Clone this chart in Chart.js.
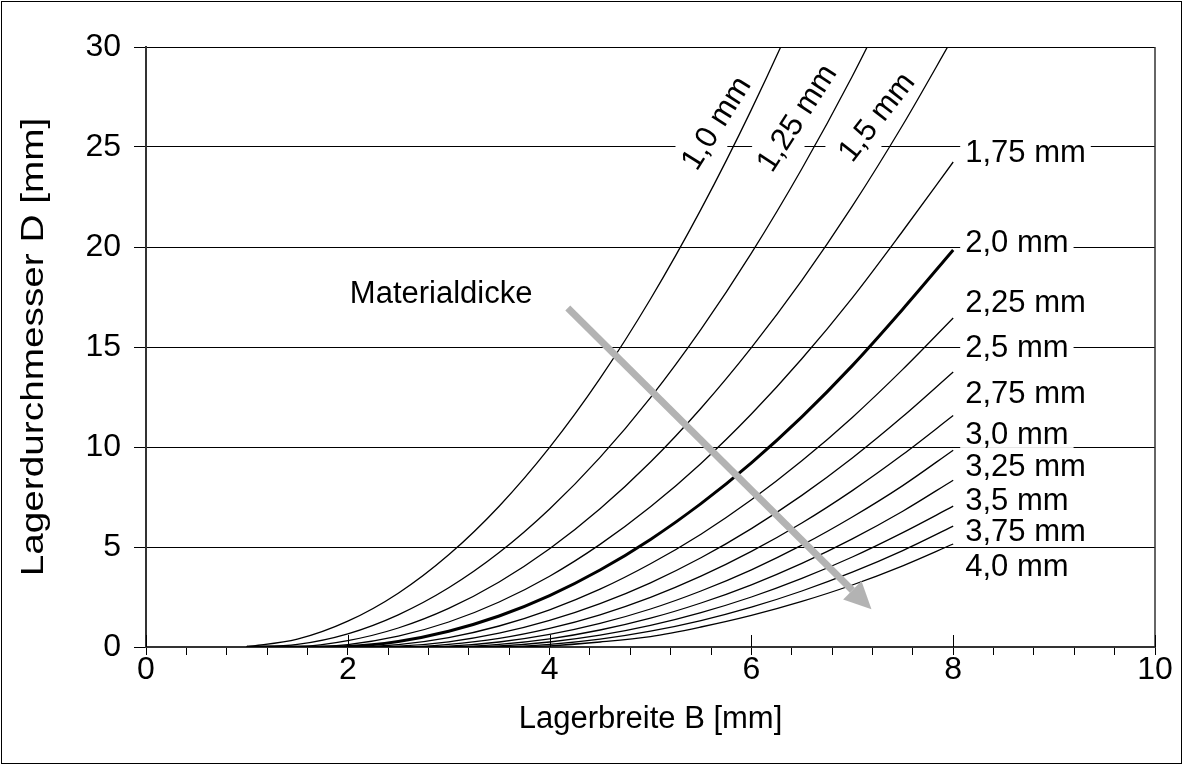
<!DOCTYPE html>
<html>
<head>
<meta charset="utf-8">
<script src="https://cdn.jsdelivr.net/npm/chart.js@4.4.1/dist/chart.umd.min.js"></script>
<style>
  html, body { margin: 0; padding: 0; background: #fff; }
  canvas { display: block; }
</style>
</head>
<body>
<canvas id="chart" width="1183" height="765"></canvas>
<script>
// Lagerbreite B [mm] at which each curve is sampled
const widthB = [1, 1.5, 2, 2.5, 3, 3.5, 4, 4.5, 5, 5.5, 6, 6.5, 7, 7.5, 8];

// Lagerdurchmesser D [mm] per Materialdicke
const d10  = [0.01, 0.39, 1.29, 2.69, 4.61, 7.04, 9.98, 13.43, 17.40, 21.88, 26.87, 32.37, 38.39];
const d125 = [0, 0.13, 0.66, 1.61, 2.96, 4.72, 6.90, 9.48, 12.47, 15.88, 19.69, 23.91, 28.54, 33.59];
const d15  = [0, 0.02, 0.32, 0.95, 1.93, 3.25, 4.91, 6.91, 9.25, 11.94, 14.97, 18.33, 22.04, 26.10, 30.49];
const d175 = [0, 0, 0.12, 0.54, 1.25, 2.25, 3.54, 5.13, 7.01, 9.18, 11.65, 14.41, 17.46, 20.80, 24.25];
const d20  = [0, 0, 0.03, 0.28, 0.79, 1.55, 2.57, 3.85, 5.38, 7.17, 9.21, 11.51, 14.07, 16.89, 19.85];
const d225 = [0, 0, 0, 0.12, 0.47, 1.05, 1.86, 2.89, 4.16, 5.64, 7.36, 9.31, 11.48, 13.88, 16.45];
const d25  = [0, 0, 0, 0.04, 0.26, 0.69, 1.33, 2.17, 3.21, 4.46, 5.92, 7.58, 9.45, 11.52, 13.75];
const d275 = [0, 0, 0, 0, 0.13, 0.43, 0.93, 1.61, 2.48, 3.54, 4.78, 6.20, 7.82, 9.62, 11.57];
const d30  = [0, 0, 0, 0, 0.04, 0.25, 0.63, 1.18, 1.90, 2.80, 3.86, 5.09, 6.50, 8.07, 9.84];
const d325 = [0, 0, 0, 0, 0.01, 0.13, 0.41, 0.85, 1.44, 2.20, 3.11, 4.18, 5.41, 6.79, 8.34];
const d35  = [0, 0, 0, 0, 0, 0.05, 0.25, 0.59, 1.08, 1.72, 2.50, 3.43, 4.50, 5.72, 7.04];
const d375 = [0, 0, 0, 0, 0, 0.01, 0.13, 0.39, 0.79, 1.32, 1.99, 2.80, 3.74, 4.82, 6.04];
const d40  = [0, 0, 0, 0, 0, 0, 0.06, 0.25, 0.52, 1.00, 1.58, 2.28, 3.10, 4.06, 5.15];

const seriesValues = [d10, d125, d15, d175, d20, d225, d25, d275, d30, d325, d35, d375, d40];
const seriesNames = ['1,0 mm', '1,25 mm', '1,5 mm', '1,75 mm', '2,0 mm', '2,25 mm', '2,5 mm',
                     '2,75 mm', '3,0 mm', '3,25 mm', '3,5 mm', '3,75 mm', '4,0 mm'];

// axis ticks
const xTickValues = [0, 0.4, 0.8, 1.2, 1.6, 2, 2.4, 2.8, 3.2, 3.6, 4, 4.4, 4.8, 5.2, 5.6, 6,
                     6.4, 6.8, 7.2, 7.6, 8, 8.4, 8.8, 9.2, 9.6, 10];
const xMajorTicks = [0, 2, 4, 6, 8, 10];
const yTickValues = [0, 5, 10, 15, 20, 25, 30];

const xTitle = 'Lagerbreite B [mm]';
const yTitle = 'Lagerdurchmesser D [mm]';
const arrowCaption = 'Materialdicke';

const FONT = "'Liberation Sans', Arial, Helvetica, sans-serif";
const FSIZE = 31;
const TICK_FSIZE = 32;

// label placement (data units) for the steep thin-sheet curves, written along the curve
const slantedLabels = [
  { text: '1,0 mm',  b: 5.65, d: 26.2,  angle: -58 },
  { text: '1,25 mm', b: 6.45, d: 26.45, angle: -57 },
  { text: '1,5 mm',  b: 7.24, d: 26.5,  angle: -52 }
];
// label heights (data units) for the curves ending at B = 8
const endLabelD = [24.72, 20.22, 17.22, 14.97, 12.66, 10.63, 9.02, 7.35, 5.77, 4.05];

const arrowFrom = { b: 4.18, d: 16.95 };
const arrowTo = { b: 7.19, d: 1.885 };
const captionPos = { b: 2.02, d: 17.68 };

const datasets = seriesValues.map((vals, i) => ({
  label: seriesNames[i],
  data: vals.map((v, k) => ({ x: widthB[k], y: v })),
  borderColor: '#000',
  borderWidth: seriesNames[i] === '2,0 mm' ? 3 : 1.3,
  pointRadius: 0,
  fill: false,
  cubicInterpolationMode: 'monotone'
}));

const annotate = {
  id: 'annotate',
  beforeDatasetsDraw(chart) {
    const { ctx, chartArea, scales: { x, y } } = chart;
    ctx.save();
    ctx.font = FSIZE + 'px ' + FONT;
    ctx.fillStyle = '#000';
    ctx.textBaseline = 'middle';

    // slanted labels with white backing
    slantedLabels.forEach(l => {
      const px = x.getPixelForValue(l.b), py = y.getPixelForValue(l.d);
      const w = ctx.measureText(l.text).width + 10, h = 44;
      ctx.save();
      ctx.translate(px, py);
      ctx.rotate(l.angle * Math.PI / 180);
      ctx.fillStyle = '#fff';
      ctx.fillRect(-w / 2, -h / 2, w, h);
      ctx.fillStyle = '#000';
      ctx.textAlign = 'center';
      ctx.fillText(l.text, 0, 1);
      ctx.restore();
    });

    // labels at the end of the thicker-sheet curves
    ctx.textAlign = 'left';
    const lx = x.getPixelForValue(8) + 12;
    endLabelD.forEach((d, i) => {
      const text = seriesNames[i + 3];
      const py = y.getPixelForValue(d);
      const w = ctx.measureText(text).width;
      ctx.fillStyle = '#fff';
      ctx.fillRect(lx - 5, py - 13.5, w + 10, 27);
      ctx.fillStyle = '#000';
      ctx.fillText(text, lx, py + 1);
    });

    // caption of the arrow
    ctx.fillText(arrowCaption, x.getPixelForValue(captionPos.b), y.getPixelForValue(captionPos.d) + 1);

    // right frame of the plot area
    ctx.strokeStyle = '#333';
    ctx.lineWidth = 1.5;
    ctx.beginPath();
    ctx.moveTo(chartArea.right, chartArea.top);
    ctx.lineTo(chartArea.right, chartArea.bottom);
    ctx.stroke();

    // vertical axis title, set in a wide running width
    ctx.save();
    ctx.translate(33, (chartArea.top + chartArea.bottom) / 2);
    ctx.rotate(-Math.PI / 2);
    ctx.scale(1.25, 1);
    ctx.textAlign = 'center';
    ctx.fillStyle = '#000';
    ctx.fillText(yTitle, 0, 1);
    ctx.restore();
    ctx.restore();
  },
  afterDatasetsDraw(chart) {
    const { ctx, chartArea, scales: { x, y } } = chart;
    ctx.save();
    // grey arrow: thinner sheet -> thicker sheet
    const x0 = x.getPixelForValue(arrowFrom.b), y0 = y.getPixelForValue(arrowFrom.d);
    const x1 = x.getPixelForValue(arrowTo.b), y1 = y.getPixelForValue(arrowTo.d);
    const ang = Math.atan2(y1 - y0, x1 - x0);
    const headLen = 27, headHalf = 13;
    const bx = x1 - headLen * Math.cos(ang), by = y1 - headLen * Math.sin(ang);
    ctx.strokeStyle = '#b3b3b3';
    ctx.fillStyle = '#b3b3b3';
    ctx.lineWidth = 7;
    ctx.beginPath();
    ctx.moveTo(x0, y0);
    ctx.lineTo(bx, by);
    ctx.stroke();
    ctx.beginPath();
    ctx.moveTo(x1, y1);
    ctx.lineTo(bx + headHalf * Math.sin(ang), by - headHalf * Math.cos(ang));
    ctx.lineTo(bx - headHalf * Math.sin(ang), by + headHalf * Math.cos(ang));
    ctx.closePath();
    ctx.fill();

    // major x ticks also reach into the plot area
    ctx.strokeStyle = '#000';
    ctx.lineWidth = 1;
    xMajorTicks.forEach(v => {
      const px = Math.round(x.getPixelForValue(v)) + 0.5;
      ctx.beginPath();
      ctx.moveTo(px, chartArea.bottom - 12);
      ctx.lineTo(px, chartArea.bottom);
      ctx.stroke();
    });
    ctx.restore();
  },
  afterDraw(chart) {
    const { ctx, width, height } = chart;
    ctx.save();
    ctx.strokeStyle = '#000';
    ctx.lineWidth = 1;
    ctx.strokeRect(1.5, 1.5, width - 3, height - 3);
    ctx.restore();
  }
};

new Chart(document.getElementById('chart'), {
  type: 'line',
  data: { datasets },
  plugins: [annotate],
  options: {
    responsive: false,
    animation: false,
    events: [],
    layout: { padding: { left: 0, top: 47, right: 28, bottom: 0 } },
    plugins: { legend: { display: false }, tooltip: { enabled: false } },
    scales: {
      x: {
        type: 'linear',
        min: 0,
        max: 10,
        afterFit(scale) { scale.height = 118; },
        afterBuildTicks(scale) { scale.ticks = xTickValues.map(v => ({ value: v })); },
        ticks: {
          autoSkip: false,
          maxRotation: 0,
          padding: -4,
          color: '#000',
          font: { family: FONT, size: TICK_FSIZE },
          callback: v => (xMajorTicks.includes(Math.round(v * 10) / 10) ? String(Math.round(v)) : '')
        },
        grid: { drawOnChartArea: false, tickLength: 8, color: '#000', lineWidth: 1 },
        border: { color: '#333', width: 2 },
        title: {
          display: true,
          text: xTitle,
          color: '#000',
          font: { family: FONT, size: FSIZE },
          padding: { top: 27, bottom: 27 }
        }
      },
      y: {
        type: 'linear',
        min: 0,
        max: 30,
        afterFit(scale) { scale.width = 146; },
        afterBuildTicks(scale) { scale.ticks = yTickValues.map(v => ({ value: v })); },
        ticks: {
          padding: 13,
          color: '#000',
          font: { family: FONT, size: TICK_FSIZE }
        },
        grid: { color: '#000', lineWidth: 1, tickLength: 12 },
        border: { color: '#333', width: 2 },
        title: { display: false }
      }
    }
  }
});
</script>
</body>
</html>
